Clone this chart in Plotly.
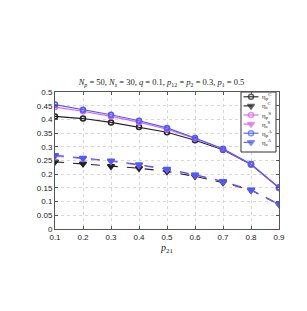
import plotly.graph_objects as go

p21 = [0.1, 0.2, 0.3, 0.4, 0.5, 0.6, 0.7, 0.8, 0.9]
eta_p_C = [0.411, 0.403, 0.389, 0.372, 0.353, 0.324, 0.289, 0.235, 0.150]
eta_s_C = [0.245, 0.238, 0.229, 0.222, 0.210, 0.192, 0.170, 0.141, 0.090]
eta_p_S = [0.445, 0.430, 0.411, 0.390, 0.364, 0.330, 0.291, 0.236, 0.150]
eta_s_S = [0.266, 0.257, 0.247, 0.233, 0.217, 0.197, 0.173, 0.142, 0.090]
eta_p_A = [0.454, 0.435, 0.417, 0.395, 0.369, 0.332, 0.293, 0.237, 0.152]
eta_s_A = [0.269, 0.259, 0.249, 0.235, 0.219, 0.198, 0.174, 0.143, 0.091]

x_ticks = [0.1, 0.2, 0.3, 0.4, 0.5, 0.6, 0.7, 0.8, 0.9]
y_ticks = [0, 0.05, 0.1, 0.15, 0.2, 0.25, 0.3, 0.35, 0.4, 0.45, 0.5]
y_labels = ["0", "0.05", "0.1", "0.15", "0.2", "0.25", "0.3", "0.35", "0.4", "0.45", "0.5"]

BLACK = "#222222"
MAGENTA = "#e060f0"
BLUE = "#4a5cff"

series = [
    ("η<sub>p</sub><sup>C</sup>", eta_p_C, BLACK, "solid", "circle-open"),
    ("η<sub>s</sub><sup>C</sup>", eta_s_C, BLACK, "dash", "triangle-down"),
    ("η<sub>p</sub><sup>S</sup>", eta_p_S, MAGENTA, "solid", "circle-open"),
    ("η<sub>s</sub><sup>S</sup>", eta_s_S, MAGENTA, "dash", "triangle-down"),
    ("η<sub>p</sub><sup>A</sup>", eta_p_A, BLUE, "solid", "circle-open"),
    ("η<sub>s</sub><sup>A</sup>", eta_s_A, BLUE, "dash", "triangle-down"),
]

W, H = 307, 311
ML, MR, MT, MB = 47, 36, 84, 90
PW, PH = W - ML - MR, H - MT - MB

def fx(px):  # pixel x -> plot-domain fraction
    return (px - ML) / PW

def fy(py):  # pixel y -> plot-domain fraction
    return (H - MB - py) / PH

fig = go.Figure()
for name, vals, col, dash, sym in series:
    fig.add_trace(go.Scatter(
        x=p21, y=vals, name=name, mode="lines+markers", showlegend=False,
        line=dict(color=col, width=1.1, dash=dash),
        marker=dict(symbol=sym, size=5 if "circle" in sym else 6, color=col,
                    line=dict(color=col, width=1.5)),
    ))

# custom compact legend (MATLAB style) on an overlay axis spanning the plot area
box_x0, box_x1, box_y0, box_y1 = 233, 268, 84, 144
row0, row_step = 88.8, 9.1
fig.add_trace(go.Scatter(
    x=[fx(box_x0), fx(box_x1), fx(box_x1), fx(box_x0), fx(box_x0)],
    y=[fy(box_y1), fy(box_y1), fy(box_y0), fy(box_y0), fy(box_y1)],
    xaxis="x2", yaxis="y2", mode="lines", fill="toself", fillcolor="white",
    line=dict(color="#333", width=1), showlegend=False, hoverinfo="skip",
))
for i, (name, vals, col, dash, sym) in enumerate(series):
    yy = fy(row0 + i * row_step)
    fig.add_trace(go.Scatter(
        x=[fx(235.5), fx(243), fx(250.5)], y=[yy, yy, yy], xaxis="x2", yaxis="y2",
        mode="lines+markers", showlegend=False, hoverinfo="skip",
        line=dict(color=col, width=1.1, dash="dash" if dash == "dash" else "solid"),
        marker=dict(symbol=sym, size=[0, 5 if "circle" in sym else 6, 0], color=col,
                    line=dict(color=col, width=1.5)),
    ))
    fig.add_annotation(xref="x domain", yref="y domain", x=fx(251.5), y=yy,
                       xanchor="left", yanchor="middle", text=name, showarrow=False,
                       font=dict(family="Liberation Serif, Times New Roman", size=7, color="#222"))

axis_common = dict(
    showline=True, linecolor="#555555", linewidth=1, mirror="ticks",
    ticks="inside", ticklen=3, tickcolor="#555555",
    showgrid=True, gridcolor="#d8d8d8", griddash="dot", gridwidth=1,
    zeroline=False, tickfont=dict(family="Liberation Sans, Arial", size=8, color="#222"),
)

fig.update_layout(
    width=W, height=H,
    margin=dict(l=ML, r=MR, t=MT, b=MB),
    paper_bgcolor="white", plot_bgcolor="white",
    title=dict(
        text="<i>N<sub>p</sub></i> = 50, <i>N<sub>s</sub></i> = 30, <i>q</i> = 0.1, <i>p</i><sub>12</sub> = <i>p</i><sub>2</sub> = 0.3, <i>p</i><sub>1</sub> = 0.5",
        font=dict(family="Liberation Serif, Times New Roman", size=8.5, color="#222"),
        x=0.5, xanchor="center", y=1 - 74 / H, yanchor="middle",
    ),
    xaxis=dict(range=[0.1, 0.9], tickvals=x_ticks, ticktext=[str(v) for v in x_ticks],
               title=dict(text="<i>p</i><sub>21</sub>", standoff=0,
                          font=dict(family="Liberation Serif, Times New Roman", size=10, color="#222")),
               **axis_common),
    yaxis=dict(range=[0, 0.5], tickvals=y_ticks, ticktext=y_labels, **axis_common),
    xaxis2=dict(overlaying="x", range=[0, 1], visible=False, fixedrange=True),
    yaxis2=dict(overlaying="y", range=[0, 1], visible=False, fixedrange=True),
    showlegend=False,
)

fig.write_html("out.html")
